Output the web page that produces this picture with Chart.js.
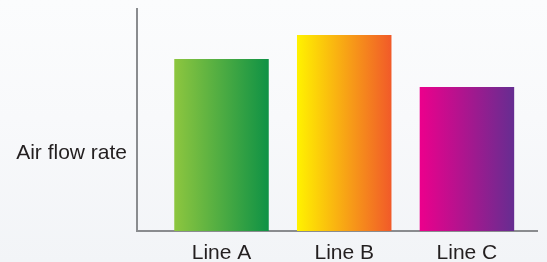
<!DOCTYPE html>
<html>
<head>
<meta charset="utf-8">
<script src="https://cdn.jsdelivr.net/npm/chart.js@4/dist/chart.umd.min.js"></script>
<style>
  html, body { margin: 0; padding: 0; }
  body {
    width: 547px; height: 262px; overflow: hidden;
    background: linear-gradient(180deg, #fbfcfd 0%, #f8f9fb 45%, #f2f4f7 100%);
  }
  #wrap { position: relative; width: 547px; height: 262px; }
</style>
</head>
<body>
<div id="wrap"><canvas id="c" width="547" height="262"></canvas></div>
<script>
// ---- data ----
const categories = ['Line A', 'Line B', 'Line C'];
const airFlowValues = [77.5, 88.3, 64.9];
const yAxisLabels = ['Air flow rate'];
const gradientStops = [
  ['#8dc63f', '#0f9245'],
  ['#fff200', '#f15a29'],
  ['#ec008c', '#662d91']
];

// ---- chart ----
const BAR_FRACTION = 0.77;
const points = categories.map((c, i) => ({ x: i, y: airFlowValues[i] }));

function barGradient(ctx) {
  const chart = ctx.chart;
  const xs = chart.scales.x;
  const i = ctx.dataIndex;
  if (!xs || i === undefined) return gradientStops[0][0];
  const p0 = xs.getPixelForValue(0), p1 = xs.getPixelForValue(1);
  const cx = xs.getPixelForValue(i);
  if (!isFinite(p0) || !isFinite(p1) || !isFinite(cx)) return gradientStops[i][0];
  const half = Math.abs(p1 - p0) * BAR_FRACTION / 2;
  const g = chart.ctx.createLinearGradient(cx - half, 0, cx + half, 0);
  g.addColorStop(0, gradientStops[i][0]);
  g.addColorStop(1, gradientStops[i][1]);
  return g;
}

const font = { family: '"Liberation Sans", Arial, Helvetica, sans-serif', size: 21 };

const chart = new Chart(document.getElementById('c'), {
  type: 'bar',
  data: {
    datasets: [{
      data: points,
      backgroundColor: barGradient,
      borderWidth: 0,
      categoryPercentage: BAR_FRACTION,
      barPercentage: 1
    }]
  },
  options: {
    responsive: false,
    animation: false,
    events: [],
    layout: { padding: { left: 0, top: 9, right: 10, bottom: 0 } },
    plugins: { legend: { display: false }, tooltip: { enabled: false }, title: { display: false } },
    scales: {
      x: {
        type: 'linear',
        offset: false,
        bounds: 'data',
        min: -0.6887,
        max: 2.571,
        grid: { display: false, drawTicks: false, offset: false },
        border: { display: true, color: '#8a8c8f', width: 2 },
        afterBuildTicks: (s) => { s.ticks = categories.map((c, i) => ({ value: i })); },
        afterFit: (s) => { s.height = 31; s.paddingLeft = 0; s.paddingRight = 0; },
        ticks: {
          padding: 10,
          maxRotation: 0,
          autoSkip: false,
          color: '#231f20',
          font: font,
          callback: (v) => categories[v]
        }
      },
      y: {
        min: 0,
        max: 100,
        grid: { display: false, drawTicks: false },
        border: { display: true, color: '#8a8c8f', width: 2 },
        afterBuildTicks: (s) => { s.ticks = yAxisLabels.map(() => ({ value: 35 })); },
        afterFit: (s) => { s.width = 137; s.paddingTop = 0; s.paddingBottom = 0; },
        ticks: {
          padding: 10,
          color: '#231f20',
          font: font,
          callback: () => yAxisLabels[0]
        }
      }
    }
  }
});
chart.update();
</script>
</body>
</html>
